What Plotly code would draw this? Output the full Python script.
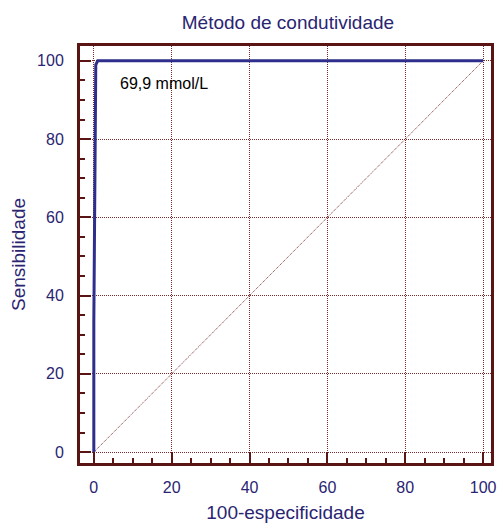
import plotly.graph_objects as go

roc_x = [0, 0, 0.5, 1, 100]
roc_y = [0, 33, 99, 100, 100]
diag_x = [0, 100]
diag_y = [0, 100]
tick_vals = [0, 20, 40, 60, 80, 100]
title_text = "Método de condutividade"
x_title = "100-especificidade"
y_title = "Sensibilidade"
annot_text = "69,9 mmol/L"

navy = "#2a2472"
maroon = "#5a1414"
grid = "#7a2a2a"
font = "Liberation Sans, Arial, sans-serif"

fig = go.Figure()
fig.add_trace(go.Scatter(x=diag_x, y=diag_y, mode="lines",
                         line=dict(color=grid, width=1, dash="1px,1px"),
                         hoverinfo="skip", showlegend=False))
fig.add_trace(go.Scatter(x=roc_x, y=roc_y, mode="lines",
                         line=dict(color="#2e2e8c", width=3),
                         showlegend=False))

fig.add_annotation(x=6.3, y=94.2, text=annot_text, showarrow=False,
                   xanchor="left", yanchor="middle",
                   font=dict(family=font, size=16, color="black"))

axis_common = dict(
    showline=True, linecolor=maroon, linewidth=3, mirror=True,
    ticks="inside", ticklen=11, tickwidth=2, tickcolor=maroon,
    tickvals=tick_vals, showgrid=True, gridcolor=grid, gridwidth=1,
    griddash="1px,1px", zeroline=False,
    tickfont=dict(family=font, size=16, color=navy),
    minor=dict(dtick=5, ticks="inside", ticklen=5, tickwidth=2,
               tickcolor=maroon, showgrid=False),
)

fig.update_xaxes(range=[-3.55, 102.03], ticklabelstandoff=8,
                 title=dict(text=x_title, font=dict(family=font, size=19, color=navy),
                            standoff=11),
                 **axis_common)
fig.update_yaxes(range=[-2.78, 103.79], ticklabelstandoff=10,
                 title=dict(text=y_title, font=dict(family=font, size=19, color=navy),
                            standoff=7),
                 **axis_common)

fig.update_layout(
    width=503, height=528,
    margin=dict(l=80, r=7, t=46, b=60),
    paper_bgcolor="white", plot_bgcolor="white",
    title=dict(text=title_text, x=0.5725, xanchor="center", y=0.958, yanchor="middle",
               font=dict(family=font, size=19, color=navy)),
)

fig.write_html("out.html", config={"displayModeBar": False},
               post_script="document.body.style.margin='0';document.body.style.padding='0';document.body.style.overflow='hidden';")
